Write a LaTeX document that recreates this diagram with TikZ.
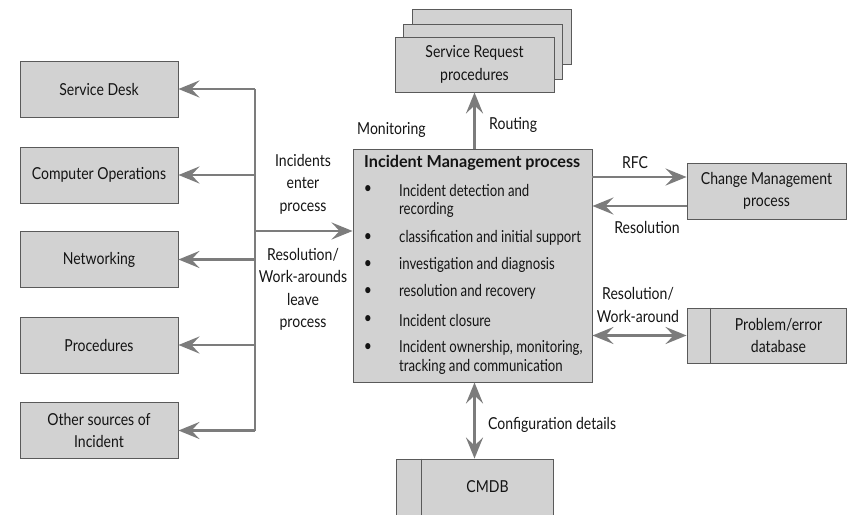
\documentclass[tikz,border=0pt]{standalone}
\usepackage{fontspec}
\setmainfont[FakeStretch=0.85]{Lato}
\newfontfamily\titlefont[FakeStretch=0.98]{Lato}
\newfontfamily\itemfont[FakeStretch=0.8]{Lato}
\usetikzlibrary{arrows.meta}
\definecolor{boxfill}{HTML}{D2D2D2}
\definecolor{boxline}{HTML}{5A5A5A}
\definecolor{arr}{HTML}{7C7C7C}
\definecolor{txt}{HTML}{141414}
\newcommand{\fsz}{\fontsize{16.5}{22.5}\selectfont}
\tikzset{
  box/.style={draw=boxline, fill=boxfill, line width=0.9pt, inner sep=0pt,
    text=txt, align=center, font=\fsz, minimum width=158pt, minimum height=56pt},
  conn/.style={draw=arr, line width=2.8pt, -{Stealth[length=21pt,width=17pt,inset=8pt]}},
  conntwo/.style={draw=arr, line width=2.8pt, {Stealth[length=21pt,width=17pt,inset=8pt]}-{Stealth[length=21pt,width=17pt,inset=8pt]}},
  trunk/.style={draw=arr, line width=2.8pt},
  lbl/.style={text=txt, font=\fsz, align=center, inner sep=0pt},
  item/.style={text=txt, font=\fontsize{16.5}{20}\itemfont, anchor=west, inner sep=0pt},
  bul/.style={text=txt, font=\fsz, inner sep=0pt},
}
\begin{document}
\begin{tikzpicture}[x=1pt,y=-1pt]
\useasboundingbox (0,0) rectangle (850,514);
% left boxes
\node[box] (sd) at (99,89) {Service Desk};
\node[box] (co) at (99,175) {Computer Operations};
\node[box] (nw) at (99,259.5) {Networking};
\node[box] (pr) at (99,345) {Procedures};
\node[box, align=center] (os) at (99,430.5) {Other sources of\\Incident};
% trunk
\coordinate (ttop) at (255,89);
\coordinate (tbot) at (255,430.5);
\coordinate (tin) at (255,231);
\draw[trunk] (ttop) -- (tbot);
\draw[conn] (ttop) -- (sd.east);
\draw[conn] (co.east -| ttop) -- (co.east);
\draw[conn] (nw.east -| ttop) -- (nw.east);
\draw[conn] (pr.east -| ttop) -- (pr.east);
\draw[conn] (tbot) -- (os.east);
% process box
\node[box, minimum width=239pt, minimum height=233pt] (proc) at (472.5,265.5) {};
\node[item, font=\fontsize{16.5}{20}\titlefont\bfseries] (p0) at (364,163) {Incident Management process};
\foreach \n/\y in {1/190,2/238,3/265,4/292,5/320,6/348}{
  \node[bul] (b\n) at (368,\y) {•};
}
\node[item] (p1) at (399,190) {Incident detection and};
\node[item] (p1b) at (399,210) {recording};
\node[item] (p2) at (399,238) {classification and initial support};
\node[item] (p3) at (399,265) {investigation and diagnosis};
\node[item] (p4) at (399,292) {resolution and recovery};
\node[item] (p5) at (399,320) {Incident closure};
\node[item] (p6) at (399,348) {Incident ownership, monitoring,};
\node[item] (p6b) at (399,367) {tracking and communication};
\draw[conn] (tin) -- (tin -| proc.west);
% service request stack
\node[box, minimum width=159pt, minimum height=55pt] (sr3) at (491.5,36.5) {};
\node[box, minimum width=159pt, minimum height=55pt] (sr2) at (482.5,51.5) {};
\node[box, minimum width=159pt, minimum height=55pt] (sr) at (474.5,64.5) {Service Request\\procedures};
\draw[conn] (proc.north -| sr.south) -- (sr.south);
% change management
\node[box, minimum width=159pt] (cm) at (766.5,191) {Change Management\\process};
\draw[conn] ([yshift=14pt]cm.west -| proc.east) -- ([yshift=14pt]cm.west);
\draw[conn] ([yshift=-15pt]cm.west) -- ([yshift=-15pt]cm.west -| proc.east);
% problem db
\node[box, minimum width=159pt, minimum height=55pt] (pd) at (766.5,335.5) {};
\draw[draw=boxline, line width=0.9pt] (pd.north west) ++(24,0) coordinate (pdd1) -- (pdd1 |- pd.south);
\node[lbl] (pdt) at (778.5,335.5) {Problem/error\\database};
\draw[conntwo] (pd.west -| proc.east) -- (pd.west);
% CMDB
\node[box, minimum width=157pt, minimum height=56pt] (cmdb) at (474.5,487) {};
\draw[draw=boxline, line width=0.9pt] (cmdb.north west) ++(26,0) coordinate (cmd1) -- (cmd1 |- cmdb.south);
\node[lbl] (cmdbt) at (487.5,487) {CMDB};
\draw[conntwo] (proc.south -| cmdb.north) -- (cmdb.north);
% labels
\node[lbl] (l1) at (303,184) {Incidents\\enter\\process};
\node[lbl] (l2) at (303,289.5) {Resolution/\\Work-arounds\\leave\\process};
\node[lbl, anchor=west] (l3) at (357,130) {Monitoring};
\node[lbl, anchor=west] (l4) at (489,125) {Routing};
\node[lbl] (l5) at (635,163) {RFC};
\node[lbl] (l6) at (647,227) {Resolution};
\node[lbl] (l7) at (638,305) {Resolution/\\Work-around};
\node[lbl, anchor=west] (l8) at (488,425) {Configuration details};
\end{tikzpicture}
\end{document}
